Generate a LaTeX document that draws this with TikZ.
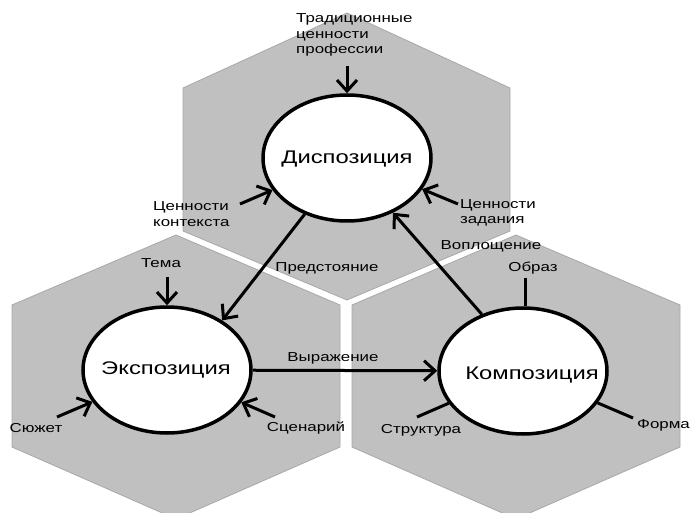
\documentclass[tikz,border=0pt]{standalone}
\usepackage{fontspec}
\setmainfont[FakeStretch=1.3]{Liberation Sans}
\usetikzlibrary{shapes.geometric,arrows.meta}
\begin{document}
\begin{tikzpicture}[x=1pt,y=-1pt,
  hexa/.style={fill=hexgray,draw=hexedge,line width=0.8pt},
  bubble/.style={ellipse,draw=black,fill=white,line width=3.5pt,inner sep=0pt,minimum width=168pt,minimum height=126pt},
  big/.style={font=\fontsize{18.3}{21}\selectfont},
  lbl/.style={font=\fontsize{13}{15.2}\selectfont,inner sep=0pt},
  arr/.style={line width=3pt,-{Straight Barb[length=11pt,width=20pt,line width=3pt]}},
  stick/.style={line width=3pt}]
\definecolor{hexgray}{HTML}{C0C0C0}
\definecolor{hexedge}{HTML}{A8A8A8}
\useasboundingbox (0,0) rectangle (691,513);
\fill[white] (0,0) rectangle (691,513);
% hexagons
\draw[hexa] (347,13) -- (510,88) -- (510,231) -- (347,300) -- (183,231) -- (183,88) -- cycle;
\draw[hexa] (176,235) -- (340,305) -- (340,447) -- (176,519) -- (12,447) -- (12,305) -- cycle;
\draw[hexa] (516,235) -- (680,305) -- (680,447) -- (516,519) -- (352,447) -- (352,305) -- cycle;
% ellipses
\node[bubble] (disp) at (347,158) {};
\node[bubble] (exp) at (167,370) {};
\node[bubble] (comp) at (523,371) {};
\node[big] (displ) at (347,159) {Диспозиция};
\node[big] (expl) at (166,370) {Экспозиция};
\node[big] (compl) at (532,375) {Композиция};
% labels
\node[lbl,align=left,anchor=west] (trad) at (296,35) {Традиционные\\ценности\\профессии};
\node[lbl,align=left,anchor=west] (ctx) at (153,214) {Ценности\\контекста};
\node[lbl,align=left,anchor=west] (task) at (460,213) {Ценности\\задания};
\node[lbl] (volp) at (491,246) {Воплощение};
\node[lbl] (pred) at (327,268) {Предстояние};
\node[lbl] (tema) at (161,263) {Тема};
\node[lbl] (sjuz) at (36,428) {Сюжет};
\node[lbl] (scen) at (306,428) {Сценарий};
\node[lbl] (vyr) at (333,358) {Выражение};
\node[lbl] (obr) at (533,268) {Образ};
\node[lbl] (strk) at (421,430) {Структура};
\node[lbl,anchor=west] (frm) at (637,425) {Форма};
% connector start points
\coordinate (tradS) at (347,66);
\coordinate (ctxS) at (240,204);
\coordinate (taskS) at (458,204);
\coordinate (temaS) at (167,277);
\coordinate (sjuzS) at (57,417);
\coordinate (scenS) at (275,417);
\coordinate (obrS) at (525,278);
\coordinate (strkS) at (417,417);
\coordinate (frmS) at (633,418);
% arrows
\draw[arr] (tradS) -- (disp.north);
\draw[arr] (ctxS) -- (disp);
\draw[arr] (taskS) -- (disp);
\draw[arr] (disp.233) -- (exp.42);
\draw[arr] (comp.126) -- (disp.310);
\draw[arr] (exp) -- (comp);
\draw[arr] (temaS) -- (exp.north);
\draw[arr] (sjuzS) -- (exp);
\draw[arr] (scenS) -- (exp);
% sticks
\draw[stick] (obrS) -- (obrS |- comp.north);
\draw[stick] (strkS) -- (comp);
\draw[stick] (frmS) -- (comp);
\end{tikzpicture}
\end{document}
